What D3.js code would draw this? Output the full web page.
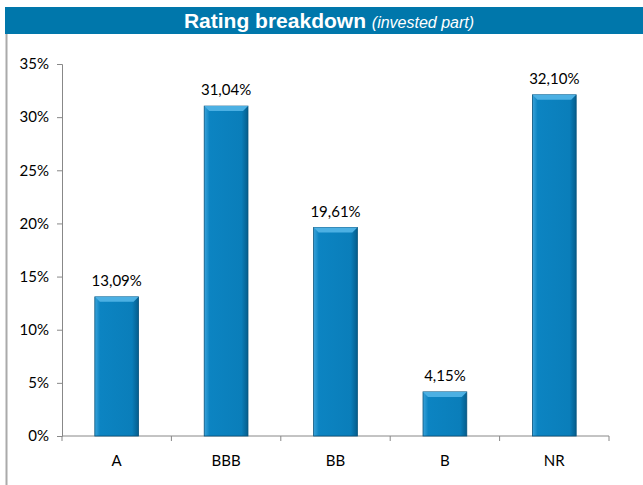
<!DOCTYPE html>
<head>
    <meta charset="utf-8">
    <script src="https://d3js.org/d3.v7.min.js"></script>
</head>
<style>
    body { margin: 0; background: #fff; }
    .axis text { font-family: "Lato", "Open Sans", sans-serif; font-size: 15px; fill: #000; }
    .axis path, .axis line { stroke: #888; }
</style>
<body>
    <div id="chart"></div>
</body>

<script>
    const categories = ["A", "BBB", "BB", "B", "NR"];
    const values = [13.09, 31.04, 19.61, 4.15, 32.10];
    const yTicks = [0, 5, 10, 15, 20, 25, 30, 35];

    const W = 643, H = 485;
    const margin = {top: 64, right: 34, bottom: 49, left: 62},
        width = W - margin.left - margin.right,
        height = H - margin.top - margin.bottom;

    const root = d3.select("#chart")
        .append("svg")
        .attr("width", W)
        .attr("height", H);

    const defs = root.append("defs");
    const grad = defs.append("linearGradient").attr("id", "barGrad")
        .attr("x1", "0").attr("x2", "1").attr("y1", "0").attr("y2", "0");
    grad.append("stop").attr("offset", "0").attr("stop-color", "#3aa3da");
    grad.append("stop").attr("offset", "0.12").attr("stop-color", "#0c84c2");
    grad.append("stop").attr("offset", "0.85").attr("stop-color", "#0a7eba");
    grad.append("stop").attr("offset", "1").attr("stop-color", "#055d8c");

    // title bar
    root.append("rect")
        .attr("x", 5).attr("y", 7).attr("width", W - 5).attr("height", 27)
        .attr("fill", "#0077ab");
    const title = root.append("text")
        .attr("x", 329).attr("y", 28)
        .attr("text-anchor", "middle")
        .attr("fill", "#fff")
        .style("font-family", "'Liberation Sans', Arial, sans-serif");
    title.append("tspan").attr("font-weight", "bold").attr("font-size", "21px").text("Rating breakdown ");
    title.append("tspan").attr("font-style", "italic").attr("font-size", "16px").text("(invested part)");

    // left border
    root.append("line")
        .attr("x1", 6.5).attr("x2", 6.5).attr("y1", 34).attr("y2", H)
        .attr("stroke", "#aaa").attr("stroke-width", 2);

    const svg = root.append("g")
        .attr("transform", `translate(${margin.left},${margin.top})`);

    const x = d3.scaleBand()
        .domain(categories)
        .range([0, width])
        .paddingInner(0.6)
        .paddingOuter(0.3);

    const y = d3.scaleLinear()
        .domain([0, 35])
        .range([height, 0]);

    svg.append("g")
        .attr("class", "axis")
        .call(d3.axisLeft(y).tickValues(yTicks).tickFormat(d => d + "%").tickSize(5).tickSizeOuter(5).tickPadding(8));

    // x axis with ticks between categories
    const step = x.step();
    const xg = svg.append("g")
        .attr("class", "axis")
        .attr("transform", `translate(0,${height})`);
    xg.append("line").attr("x1", 0).attr("x2", width).attr("stroke", "#888");
    xg.selectAll(".tk")
        .data(d3.range(categories.length + 1))
        .join("line")
        .attr("x1", i => i * step).attr("x2", i => i * step)
        .attr("y1", 0).attr("y2", 5)
        .attr("stroke", "#888");
    xg.selectAll("text")
        .data(categories)
        .join("text")
        .attr("x", d => x(d) + x.bandwidth() / 2)
        .attr("y", 30)
        .attr("text-anchor", "middle")
        .text(d => d);

    const bars = svg.selectAll(".bar")
        .data(categories.map((c, i) => ({c, v: values[i]})))
        .join("g");

    bars.append("rect")
        .attr("x", d => x(d.c))
        .attr("y", d => y(d.v))
        .attr("width", x.bandwidth())
        .attr("height", d => height - y(d.v))
        .attr("fill", "url(#barGrad)")
        .attr("stroke", "#05527c")
        .attr("stroke-width", 0.8);

    // top bevel
    bars.append("path")
        .attr("d", d => {
            const x0 = x(d.c), x1 = x0 + x.bandwidth(), t = y(d.v);
            return `M${x0},${t}L${x1},${t}L${x1 - 5},${t + 5}L${x0 + 5},${t + 5}Z`;
        })
        .attr("fill", "#4cb0e3");

    bars.append("text")
        .attr("x", d => x(d.c) + x.bandwidth() / 2)
        .attr("y", d => y(d.v) - 11)
        .attr("text-anchor", "middle")
        .style("font-family", "'Lato', 'Open Sans', sans-serif")
        .style("font-size", "15px")
        .text(d => d.v.toFixed(2).replace(".", ",") + "%");
</script>
